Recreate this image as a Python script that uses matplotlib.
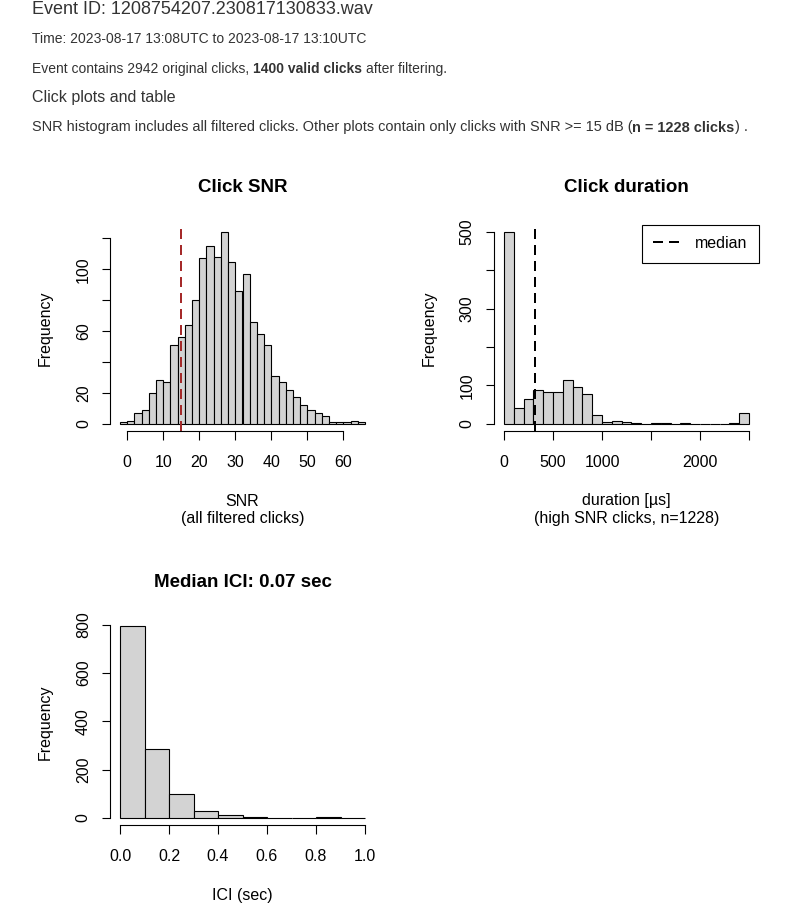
import matplotlib
matplotlib.use("Agg")
import matplotlib.pyplot as plt
import numpy as np

# ---------------- data ----------------
snr_bin_edges = np.arange(-2, 67, 2)
snr_counts = [1, 2, 7, 9, 20, 28, 27, 51, 56, 64, 80, 107, 115, 108, 124, 105, 86,
              97, 66, 58, 51, 31, 27, 22, 17, 12, 9, 7, 5, 1, 1, 1, 2, 1]
snr_threshold = 15
snr_xticks = [0, 10, 20, 30, 40, 50, 60]
snr_xticklabels = ["0", "10", "20", "30", "40", "50", "60"]
snr_yticks = [0, 20, 40, 60, 80, 100, 120]
snr_yticklabels = ["0", "20", "", "60", "", "100", ""]

dur_bin_edges = np.arange(0, 2501, 100)
dur_counts = [500, 40, 64, 88, 82, 83, 115, 95, 77, 22, 4, 6, 4, 1, 0, 1, 3, 0, 1,
              0, 0, 0, 0, 2, 27]
dur_median = 316
dur_xticks = [0, 500, 1000, 1500, 2000, 2500]
dur_xticklabels = ["0", "500", "1000", "", "2000", ""]
dur_yticks = [0, 100, 200, 300, 400, 500]
dur_yticklabels = ["0", "100", "", "300", "", "500"]

ici_bin_edges = np.round(np.arange(0, 1.01, 0.1), 1)
ici_counts = [796, 286, 99, 30, 10, 5, 0, 0, 1, 0]
ici_xticks = [0.0, 0.2, 0.4, 0.6, 0.8, 1.0]
ici_xticklabels = ["0.0", "0.2", "0.4", "0.6", "0.8", "1.0"]
ici_yticks = [0, 200, 400, 600, 800]
ici_yticklabels = ["0", "200", "400", "600", "800"]

header_event = "Event ID: 1208754207.230817130833.wav"
header_time = "Time: 2023-08-17 13:08UTC to 2023-08-17 13:10UTC"
header_counts = [("Event contains 2942 original clicks, ", "normal"),
                 ("1400 valid clicks", "bold"), (" after filtering.", "normal")]
header_section = "Click plots and table"
header_note = [("SNR histogram includes all filtered clicks. Other plots contain only clicks with SNR >= 15 dB (", "normal"),
               ("n = 1228 clicks", "bold"), (") .", "normal")]

# ---------------- style ----------------
W, H, DPI = 790, 914, 100
FONT = "Liberation Sans"
plt.rcParams["font.family"] = [FONT, "DejaVu Sans"]
plt.rcParams["lines.scale_dashes"] = False

BASE = 11.5      # pt  (~16 px)
TITLE = 13.5
PX = 72.0 / DPI  # points per pixel

fig = plt.figure(figsize=(W / DPI, H / DPI), dpi=DPI)
fig.patch.set_facecolor("white")


def fy(y):
    return 1 - y / H


def fx(x):
    return x / W


def make_axes(left, right, top, bottom):
    return fig.add_axes([fx(left), fy(bottom), fx(right) - fx(left), (bottom - top) / H])


def style_hist(ax, edges, counts, xticks, xlabels, yticks, ylabels):
    edges = np.asarray(edges, dtype=float)
    ax.bar(edges[:-1], counts, width=np.diff(edges), align="edge",
           color="#D3D3D3", edgecolor="black", linewidth=0.8)
    r = edges[-1] - edges[0]
    ax.set_xlim(edges[0] - 0.04 * r, edges[-1] + 0.04 * r)
    m = max(counts)
    ax.set_ylim(-0.04 * m, 1.04 * m)
    ax.patch.set_alpha(0)
    for s in ("top", "right"):
        ax.spines[s].set_visible(False)
    for s in ("left", "bottom"):
        ax.spines[s].set_linewidth(0.8)
    ax.spines["bottom"].set_bounds(xticks[0], xticks[-1])
    ax.spines["left"].set_bounds(yticks[0], yticks[-1])
    ax.set_xticks(xticks)
    ax.set_xticklabels(xlabels)
    ax.set_yticks(yticks)
    ax.set_yticklabels(ylabels)
    ax.tick_params(axis="both", length=8.5 * PX, width=0.8, color="black",
                   labelsize=BASE, labelcolor="black")
    ax.tick_params(axis="x", pad=27.1 * PX)
    ax.tick_params(axis="y", pad=13.9 * PX)
    for lab in ax.get_xticklabels():
        lab.set_va("baseline")
        lab.set_ha("center")
    for lab in ax.get_yticklabels():
        lab.set_rotation(90)
        lab.set_rotation_mode("anchor")
        lab.set_ha("center")
        lab.set_va("baseline")


def dashed(ax, x, color):
    ax.axvline(x, color=color, linewidth=2 * PX, dashes=(10 * PX, 6 * PX),
               ymin=0, ymax=1, clip_on=False)


# ---------------- panel 1: SNR ----------------
ax1 = make_axes(110.3, 374.7, 224.5, 431.4)
style_hist(ax1, snr_bin_edges, snr_counts, snr_xticks, snr_xticklabels,
           snr_yticks, snr_yticklabels)
dashed(ax1, snr_threshold, "#A52A2A")

# ---------------- panel 2: duration ----------------
ax2 = make_axes(494.2, 758.8, 224.5, 431.4)
style_hist(ax2, dur_bin_edges, dur_counts, dur_xticks, dur_xticklabels,
           dur_yticks, dur_yticklabels)
dashed(ax2, dur_median, "black")
leg_line = plt.Line2D([], [], color="black", linewidth=2 * PX, dashes=(10 * PX, 6 * PX))
leg = ax2.legend([leg_line], ["median"], loc="upper right", bbox_to_anchor=(1, 1),
                 borderaxespad=0, fontsize=BASE, frameon=True, fancybox=False,
                 borderpad=0.72, handlelength=1.75, handletextpad=0.85)
leg.get_frame().set_edgecolor("black")
leg.get_frame().set_linewidth(0.8)
leg.get_frame().set_alpha(1)

# ---------------- panel 3: ICI ----------------
ax3 = make_axes(110.2, 374.8, 618.3, 825.4)
style_hist(ax3, ici_bin_edges, ici_counts, ici_xticks, ici_xticklabels,
           ici_yticks, ici_yticklabels)

# ---------------- titles and axis labels ----------------
def ftext(x, y, s, **kw):
    kw.setdefault("fontsize", BASE)
    kw.setdefault("va", "baseline")
    kw.setdefault("ha", "center")
    return fig.text(fx(x), fy(y), s, **kw)


ftext(242.5, 192.3, "Click SNR", fontsize=TITLE, fontweight="bold")
ftext(626.5, 192.3, "Click duration", fontsize=TITLE, fontweight="bold")
ftext(242.5, 586.7, "Median ICI: 0.07 sec", fontsize=TITLE, fontweight="bold")

ftext(242.5, 505.5, "SNR")
ftext(242.5, 523.5, "(all filtered clicks)")
ftext(626.5, 505.5, "duration [µs]")
ftext(626.5, 523.5, "(high SNR clicks, n=1228)")
ftext(242.5, 900.0, "ICI (sec)")

for xb, yc in ((49.8, 328.0), (433.5, 328.0), (49.8, 721.9)):
    fig.text(fx(xb), fy(yc), "Frequency", fontsize=BASE, rotation=90,
             rotation_mode="anchor", ha="center", va="baseline")

# ---------------- header text ----------------
renderer = fig.canvas.get_renderer()
HEAD_COLOR = "#333333"


def text_w(s, size, weight, family):
    t = fig.text(0, 0, s, fontsize=size, fontweight=weight, family=family)
    w = t.get_window_extent(renderer).width
    t.remove()
    return w


def space_w(size, weight, family):
    return text_w("x x", size, weight, family) - text_w("xx", size, weight, family)


def segments_width(segs, size, family):
    total = 0.0
    for s, wgt in segs:
        core = s.strip(" ")
        nsp = len(s) - len(s.lstrip(" ")) + len(s) - len(s.rstrip(" "))
        if core:
            total += text_w(core, size, wgt, family)
        total += nsp * space_w(size, wgt, family)
    return total


def draw_segments(x, y, segs, size, family, color):
    for s, wgt in segs:
        lead = len(s) - len(s.lstrip(" "))
        trail = len(s) - len(s.rstrip(" "))
        core = s.strip(" ")
        sw = space_w(size, wgt, family)
        x += lead * sw
        if core:
            t = fig.text(fx(x), fy(y), core, fontsize=size, fontweight=wgt,
                         family=family, color=color, ha="left", va="baseline")
            x += t.get_window_extent(renderer).width
        x += trail * sw


fig.text(fx(31.7), fy(14.5), header_event, fontsize=13, color=HEAD_COLOR,
         ha="left", va="baseline")
fig.text(fx(31.7), fy(43.3), header_time, fontsize=10, color=HEAD_COLOR,
         ha="left", va="baseline")
draw_segments(31.7, 73.3, header_counts, 10, FONT, HEAD_COLOR)
fig.text(fx(31.7), fy(101.7), header_section, fontsize=11.5, color=HEAD_COLOR,
         ha="left", va="baseline")

note_size = 10.0
wnote = segments_width(header_note, note_size, FONT)
note_size = note_size * 714.0 / wnote
draw_segments(31.7, 131.5, header_note, note_size, FONT, HEAD_COLOR)

fig.savefig("out.png", dpi=DPI, facecolor="white")
